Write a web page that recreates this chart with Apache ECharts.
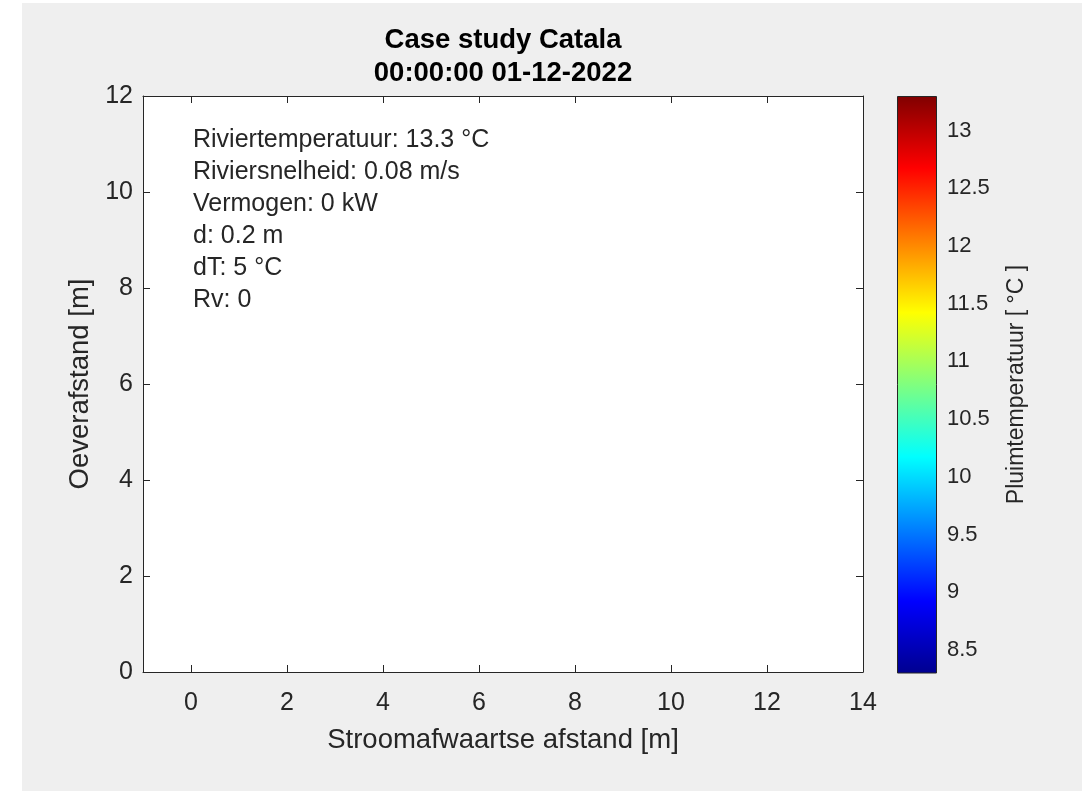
<!DOCTYPE html>
<html>
<head>
<meta charset="utf-8">
<script src="https://cdn.jsdelivr.net/npm/echarts@6/dist/echarts.min.js"></script>
<style>
  html, body { margin: 0; padding: 0; background: #ffffff; }
  #main { position: absolute; left: 22px; top: 3px; width: 1060px; height: 788px; background: #efefef; }
</style>
</head>
<body>
<div id="main"></div>
<script>
// as-lezen uit de figuur
var xRange = [-1, 14];
var xTicks = [0, 2, 4, 6, 8, 10, 12, 14];
var yRange = [0, 12];
var yStep = 2;
// kleurenbalk (jet)
var colorRange = [8.3, 13.3];
var colorTicks = [8.5, 9, 9.5, 10, 10.5, 11, 11.5, 12, 12.5, 13];
// tekstvak linksboven
var infoLines = [
  'Riviertemperatuur: 13.3 °C',
  'Riviersnelheid: 0.08 m/s',
  'Vermogen: 0 kW',
  'd: 0.2 m',
  'dT: 5 °C',
  'Rv: 0'
];
// geen pluim in dit frame
var plumePoints = [];

var FONT = 'Liberation Sans';
var INK = '#262626';

var myChart = echarts.init(document.getElementById('main'));

var tickStyle = { show: true, inside: true, length: 7, lineStyle: { color: INK, width: 1 } };
var lineStyle = { show: true, onZero: false, lineStyle: { color: INK, width: 1 } };

myChart.setOption({
  animation: false,
  title: {
    text: 'Case study Catala\n00:00:00 01-12-2022',
    left: 481,
    top: 21,
    textAlign: 'center',
    padding: 0,
    textStyle: { fontFamily: FONT, fontSize: 27.5, fontWeight: 'bold', color: '#000', lineHeight: 33 }
  },
  grid: [
    { left: 121, top: 93, width: 720, height: 576, show: true, backgroundColor: '#ffffff', borderWidth: 0 },
    { left: 875, top: 93, width: 40, height: 577, show: false }
  ],
  xAxis: [
    {
      gridIndex: 0, type: 'value', min: xRange[0], max: xRange[1],
      name: 'Stroomafwaartse afstand [m]', nameLocation: 'middle', nameGap: 54,
      nameTextStyle: { fontFamily: FONT, fontSize: 27.5, color: INK },
      axisLine: lineStyle,
      axisTick: Object.assign({ customValues: xTicks }, tickStyle),
      axisLabel: { customValues: xTicks, margin: 19, fontFamily: FONT, fontSize: 25, color: INK },
      splitLine: { show: false }
    },
    {
      gridIndex: 0, type: 'value', position: 'top', min: xRange[0], max: xRange[1],
      axisLine: lineStyle,
      axisTick: Object.assign({ customValues: xTicks }, tickStyle),
      axisLabel: { show: false },
      splitLine: { show: false }
    },
    {
      gridIndex: 1, type: 'category', data: ['kleur'],
      axisLine: { show: false }, axisTick: { show: false }, axisLabel: { show: false }
    }
  ],
  yAxis: [
    {
      gridIndex: 0, type: 'value', min: yRange[0], max: yRange[1], interval: yStep,
      name: 'Oeverafstand [m]', nameLocation: 'middle', nameGap: 48, nameRotate: 90,
      nameTextStyle: { fontFamily: FONT, fontSize: 27.5, color: INK },
      axisLine: lineStyle,
      axisTick: tickStyle,
      axisLabel: { margin: 10, fontFamily: FONT, fontSize: 25, color: INK },
      splitLine: { show: false }
    },
    {
      gridIndex: 0, type: 'value', position: 'right', min: yRange[0], max: yRange[1], interval: yStep,
      axisLine: lineStyle,
      axisTick: tickStyle,
      axisLabel: { show: false },
      splitLine: { show: false }
    },
    {
      gridIndex: 1, type: 'value', position: 'right', min: colorRange[0], max: colorRange[1],
      name: 'Pluimtemperatuur [ °C ]', nameLocation: 'middle', nameGap: 68, nameRotate: 90,
      nameTextStyle: { fontFamily: FONT, fontSize: 23, color: INK },
      axisLine: { show: false },
      axisTick: { show: true, inside: true, length: 5, customValues: colorTicks, lineStyle: { color: INK } },
      axisLabel: { customValues: colorTicks, margin: 10, fontFamily: FONT, fontSize: 22, color: INK },
      splitLine: { show: false }
    }
  ],
  graphic: [
    {
      type: 'text', left: 171, top: 121, silent: true,
      style: { text: infoLines.join('\n'), font: '25px ' + FONT, lineHeight: 32, fill: INK }
    }
  ],
  series: [
    {
      type: 'scatter', xAxisIndex: 0, yAxisIndex: 0, data: plumePoints, symbolSize: 4
    },
    {
      type: 'bar', xAxisIndex: 2, yAxisIndex: 2, barWidth: '100%',
      data: [colorRange[1]],
      itemStyle: {
        borderColor: INK, borderWidth: 1,
        color: new echarts.graphic.LinearGradient(0, 0, 0, 1, [
          { offset: 0, color: '#800000' },
          { offset: 0.125, color: '#ff0000' },
          { offset: 0.375, color: '#ffff00' },
          { offset: 0.625, color: '#00ffff' },
          { offset: 0.875, color: '#0000ff' },
          { offset: 1, color: '#00008f' }
        ])
      }
    }
  ]
});
</script>
</body>
</html>
